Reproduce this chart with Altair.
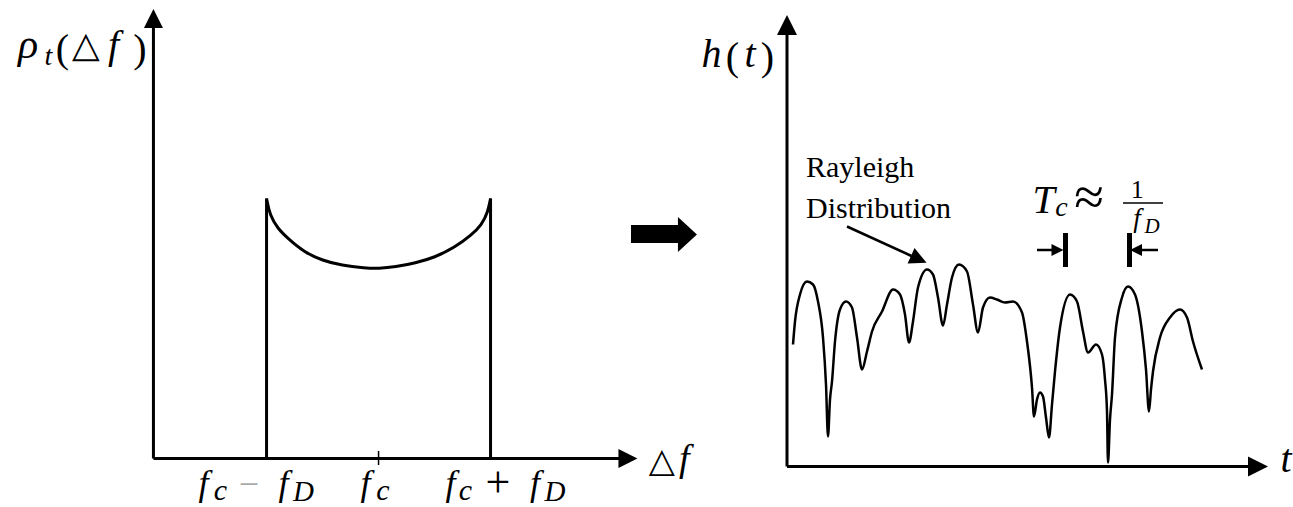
import altair as alt
import pandas as pd

W, H = 1293, 507

# ---- Left panel: Doppler power spectrum (frequency offset from f_c in units of f_D)
spec_f = [-1.0, -0.97, -0.90, -0.81, -0.66, -0.50, -0.33, -0.12, 0.0,
          0.15, 0.33, 0.50, 0.68, 0.83, 0.92, 0.975, 1.0]
spec_p = [2.60, 2.43, 2.30, 2.20, 2.06, 1.98, 1.93, 1.905, 1.90,
          1.915, 1.955, 2.01, 2.11, 2.235, 2.335, 2.46, 2.60]
band_edges = [-1.0, 1.0]
band_top = 2.60

# ---- Right panel: fading envelope |h(t)| (arbitrary units)
env_t = [0.6, 0.8, 1.3, 2.0, 2.6, 3.1, 3.6, 3.9, 4.1, 4.3, 4.5, 4.8, 5.3, 5.9, 6.5,
         7.0, 7.5, 8.0, 8.5, 9.5, 10.6, 11.3, 11.8, 12.2, 12.6, 13.1, 14.0, 14.6,
         15.1, 15.6, 16.0, 16.5, 17.2, 18.0, 18.6, 19.1, 19.6, 20.3, 21.0, 21.8,
         22.6, 23.5, 24.0, 24.5, 24.7, 25.0, 25.3, 25.6, 25.9, 26.2, 26.5, 26.8,
         27.3, 28.3, 29.0, 29.6, 30.1, 30.9, 31.5, 31.8, 32.0, 32.1, 32.3, 32.5,
         32.8, 33.5, 34.1, 34.8, 35.5, 35.9, 36.2, 36.4, 36.6, 37.3, 38.3, 39.3,
         40.0, 40.6, 41.5]
env_h = [12.2, 14.5, 17.2, 18.5, 18.2, 16.5, 12.9, 8.2, 3.0, 6.7, 8.5, 12.5, 15.7,
         16.5, 15.9, 12.9, 9.7, 11.5, 13.5, 15.5, 17.7, 17.2, 15.2, 12.4, 14.5,
         17.9, 19.7, 19.2, 16.9, 14.1, 16.2, 18.9, 20.2, 19.5, 16.2, 13.4, 15.9,
         16.9, 16.7, 16.4, 16.5, 15.4, 12.5, 7.9, 5.0, 6.7, 7.4, 7.0, 4.9, 2.9,
         6.2, 9.5, 13.9, 17.2, 16.5, 13.5, 11.4, 12.2, 11.2, 8.7, 5.5, 0.4, 4.7,
         7.2, 12.9, 16.9, 18.0, 17.2, 13.5, 9.7, 5.5, 7.7, 9.5, 12.9, 14.9, 15.7,
         14.9, 12.5, 9.7]

# scale domains of the two drawings (both span the whole canvas)
LX, LY = [-3.38, 8.165], [-0.485, 4.585]
RX, RY = [-78.7, 50.6], [-4.05, 46.65]

SERIF = "Liberation Serif"
UP_HEAD = "M-1,1L0,-1L1,1Z"
WIDE_HEAD = "M-0.543,-1L0.543,0L-0.543,1Z"


def sc(dom):
    return alt.Scale(domain=dom, nice=False, zero=False)


def enc_xy(dx, dy):
    return dict(x=alt.X("x:Q", scale=sc(dx), axis=None),
                y=alt.Y("y:Q", scale=sc(dy), axis=None))


def segs(rows, dx, dy):
    df = pd.DataFrame(rows, columns=["x", "y", "x2", "y2", "w"])
    return alt.Chart(df).mark_rule(color="black", strokeCap="butt").encode(
        **enc_xy(dx, dy), x2="x2:Q", y2="y2:Q",
        strokeWidth=alt.StrokeWidth("w:Q", scale=None))


def heads(rows, dx, dy, shape=UP_HEAD):
    df = pd.DataFrame(rows, columns=["x", "y", "s", "a"])
    return alt.Chart(df).mark_point(shape=shape, filled=True, color="black",
                                    opacity=1, strokeWidth=0).encode(
        **enc_xy(dx, dy), size=alt.Size("s:Q", scale=None),
        angle=alt.Angle("a:Q", scale=None))


def texts(rows, dx, dy, font=SERIF, style="normal", align="center", color="black"):
    df = pd.DataFrame(rows, columns=["x", "y", "label", "s"])
    return alt.Chart(df).mark_text(font=font, fontStyle=style, align=align,
                                   baseline="alphabetic", color=color).encode(
        **enc_xy(dx, dy), text="label:N", size=alt.Size("s:Q", scale=None))


# ---------------- left drawing ----------------
spectrum = alt.Chart(pd.DataFrame({"x": spec_f, "y": spec_p})).mark_line(
    color="black", strokeWidth=3, interpolate="basis").encode(**enc_xy(LX, LY))

left_rules = segs([
    (-2.01, 0, -2.01, 4.35, 3),          # vertical axis
    (-2.01, 0, 2.18, 0, 3),              # frequency axis
    (band_edges[0], 0, band_edges[0], band_top, 3),
    (band_edges[1], 0, band_edges[1], band_top, 3),
    (0, -0.065, 0, 0.075, 1.5),          # tick at f_c
], LX, LY)

left_heads = heads([(-2.01, 4.40, 361, 0), (2.227, 0, 361, 90)], LX, LY)

# block arrow between the two drawings
block_body = alt.Chart(pd.DataFrame({"x": [2.254], "x2": [2.685], "y": [2.155], "y2": [2.335]})).mark_rect(
    color="black").encode(**enc_xy(LX, LY), x2="x2:Q", y2="y2:Q")
block_head = heads([(2.758, 2.24, 1225, 0)], LX, LY, shape=WIDE_HEAD)

left_italic = texts([
    (-3.13, 4.005, "ρ", 42), (-2.947, 3.935, "t", 28), (-2.367, 4.005, "f", 40),
    (2.73, -0.125, "f", 38),
    (-1.563, -0.365, "f", 36), (-1.412, -0.415, "c", 30),
    (-0.849, -0.365, "f", 36), (-0.671, -0.425, "D", 29),
    (-0.117, -0.365, "f", 36), (0.039, -0.415, "c", 30),
    (0.642, -0.365, "f", 36), (0.776, -0.415, "c", 30),
    (1.396, -0.365, "f", 36), (1.575, -0.425, "D", 29),
], LX, LY, style="italic")
left_upright = texts([
    (-2.822, 3.965, "(", 40), (-2.130, 3.965, ")", 40),
    (1.066, -0.38, "+", 44),
], LX, LY)
left_minus = texts([(-1.157, -0.37, "−", 36)], LX, LY, color="#aaaaaa")
left_tri = texts([(-2.6125, 4.02, "△", 36), (2.53, -0.135, "△", 34)], LX, LY,
                 font="DejaVu Sans")

left = alt.layer(spectrum, left_rules, left_heads, block_body, block_head,
                 left_italic, left_upright, left_minus, left_tri)

# ---------------- right drawing ----------------
envelope = alt.Chart(pd.DataFrame({"x": env_t, "y": env_h})).mark_line(
    color="black", strokeWidth=2.5, interpolate="monotone").encode(**enc_xy(RX, RY))

right_rules = segs([
    (0, 0, 0, 43.3, 3),                  # vertical axis
    (0, 0, 46.3, 0, 3),                  # time axis
    (6.0, 24.0, 12.45, 21.05, 2.5),      # pointer from the caption
    (27.85, 23.35, 27.85, 19.95, 5),     # coherence-time markers
    (34.25, 23.35, 34.25, 19.95, 5),
    (25.0, 21.65, 26.6, 21.65, 2.5),
    (35.4, 21.65, 37.1, 21.65, 2.5),
    (33.6, 26.35, 37.6, 26.35, 1.5),     # fraction bar
], RX, RY)

right_heads = heads([
    (0, 44.15, 400, 0), (47.1, 0, 400, 90),
    (13.18, 20.72, 289, 114.2),
    (27.05, 21.65, 144, 90), (34.9, 21.65, 144, 270),
], RX, RY)

right_italic = texts([
    (-7.55, 39.95, "h", 40), (-3.7, 39.95, "t", 40),
    (49.9, -0.55, "t", 40),
    (25.65, 25.35, "T", 40), (27.45, 25.1, "c", 28),
    (35.0, 23.95, "f", 27), (36.5, 23.4, "D", 21),
], RX, RY, style="italic")
right_upright = texts([
    (-5.45, 39.65, "(", 40), (-1.95, 39.65, ")", 40),
    (35.03, 26.9, "1", 26),
    (30.2, 25.15, "≈", 54),
], RX, RY)
caption = texts([
    (1.9, 28.95, "Rayleigh", 30), (1.9, 24.85, "Distribution", 30),
], RX, RY, align="left")

right = alt.layer(envelope, right_rules, right_heads, right_italic, right_upright, caption)

chart = alt.layer(left, right).resolve_scale(
    x="independent", y="independent"
).properties(
    width=W, height=H, padding=0, autosize=alt.AutoSizeParams(type="none"),
    background="white",
).configure_view(stroke=None)

chart.save("out.html", embed_options={"renderer": "svg", "actions": False})
